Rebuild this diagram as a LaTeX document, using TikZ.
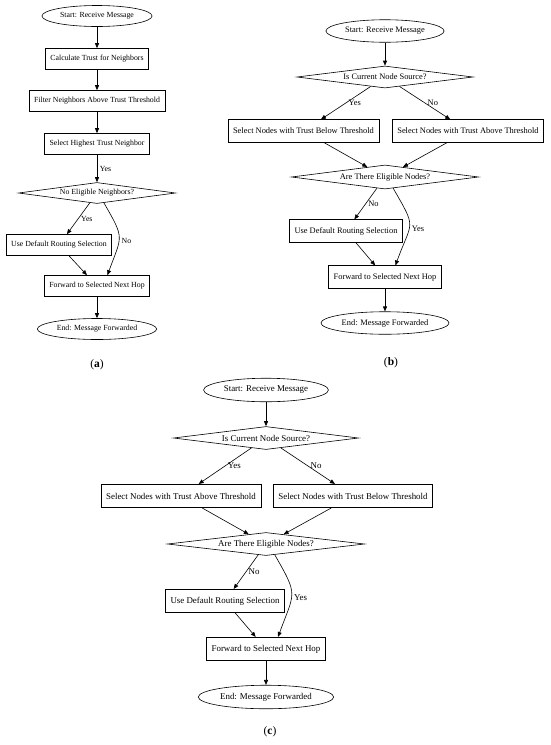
\documentclass[tikz,border=0pt]{standalone}
\usepackage{fontspec}
\setmainfont{Liberation Serif}
\usetikzlibrary{arrows.meta, shapes.geometric}

\begin{document}
\begin{tikzpicture}[x=1pt, y=1pt, line width=0.6pt,
    boxh/.style={minimum height=21pt},
    terminal/.style={draw, ellipse, inner xsep=2pt, inner ysep=0pt, boxh},
    procbox/.style={draw, rectangle, inner xsep=5pt, inner ysep=0pt, boxh},
    decision/.style={draw, diamond, aspect=9, inner sep=0pt},
    flow/.style={-{Triangle[length=5pt, width=4pt]}},
    lbl/.style={right, inner sep=2.5pt},
    caption/.style={font=\fontsize{11.5}{13}\selectfont}]
  \useasboundingbox (0,0) rectangle (550,-745);

  % (a) Single path: highest trust neighbour
  \begin{scope}[every node/.append style={font=\fontsize{7.8}{9}\selectfont}]
    \node[terminal] (startA) at (97,-16) {Start: Receive Message};
    \node[procbox] (calcA) at (97,-59) {Calculate Trust for Neighbors};
    \node[procbox] (filtA) at (97,-101) {Filter Neighbors Above Trust Threshold};
    \node[procbox] (highA) at (97,-144) {Select Highest Trust Neighbor};
    \node[decision, minimum width=157pt, minimum height=21pt] (decA) at (97,-193) {No Eligible Neighbors?};
    \node[procbox] (useA) at (59,-245) {Use Default Routing Selection};
    \node[procbox] (fwdA) at (97,-286) {Forward to Selected Next Hop};
    \node[terminal] (endA) at (97,-329) {End: Message Forwarded};

    \draw[flow] (startA) -- (calcA);
    \draw[flow] (calcA) -- (filtA);
    \draw[flow] (filtA) -- (highA);
    \draw[flow] (highA) -- node[lbl] {Yes} (decA);
    \draw[flow] (decA) -- node[lbl] {Yes} (useA);
    \draw[flow] (decA.-55) to[out=-60, in=70, looseness=1.5] node[lbl, pos=0.56] {No} (fwdA.46);
    \draw[flow] (useA) -- (fwdA);
    \draw[flow] (fwdA) -- (endA);
  \end{scope}
  \node[caption] (capA) at (97,-365) {(\textbf{a})};

  % (b) Source picks below threshold
  \begin{scope}[boxh/.style={minimum height=22.5pt},
      every node/.append style={font=\fontsize{8.4}{10}\selectfont}]
    \node[terminal] (startB) at (385,-31) {Start: Receive Message};
    \node[decision, minimum width=176pt, minimum height=22pt] (srcB) at (385,-77) {Is Current Node Source?};
    \node[procbox] (belowB) at (303.5,-131) {Select Nodes with Trust Below Threshold};
    \node[procbox] (aboveB) at (468,-131) {Select Nodes with Trust Above Threshold};
    \node[decision, minimum width=187pt, minimum height=24pt] (eligB) at (385,-177) {Are There Eligible Nodes?};
    \node[procbox] (useB) at (346,-231) {Use Default Routing Selection};
    \node[procbox] (fwdB) at (385,-277) {Forward to Selected Next Hop};
    \node[terminal] (endB) at (385,-323) {End: Message Forwarded};

    \draw[flow] (startB) -- (srcB);
    \draw[flow] (srcB) -- node[lbl] {Yes} (belowB);
    \draw[flow] (srcB) -- node[lbl] {No} (aboveB);
    \draw[flow] (belowB) -- (eligB);
    \draw[flow] (aboveB) -- (eligB);
    \draw[flow] (eligB) -- node[lbl] {No} (useB);
    \draw[flow] (eligB.-54) to[out=-60, in=70, looseness=1.6] node[lbl, pos=0.56] {Yes} (fwdB.48);
    \draw[flow] (useB) -- (fwdB);
    \draw[flow] (fwdB) -- (endB);
  \end{scope}
  \node[caption] (capB) at (391,-363) {(\textbf{b})};

  % (c) Source picks above threshold
  \begin{scope}[boxh/.style={minimum height=23.5pt},
      every node/.append style={font=\fontsize{8.9}{11}\selectfont}]
    \node[terminal] (startC) at (266,-390) {Start: Receive Message};
    \node[decision, minimum width=185pt, minimum height=23pt] (srcC) at (266,-438) {Is Current Node Source?};
    \node[procbox] (aboveC) at (181,-496) {Select Nodes with Trust Above Threshold};
    \node[procbox] (belowC) at (353,-496) {Select Nodes with Trust Below Threshold};
    \node[decision, minimum width=197pt, minimum height=23pt] (eligC) at (266,-544) {Are There Eligible Nodes?};
    \node[procbox] (useC) at (225,-601) {Use Default Routing Selection};
    \node[procbox] (fwdC) at (266,-649) {Forward to Selected Next Hop};
    \node[terminal] (endC) at (266,-697) {End: Message Forwarded};

    \draw[flow] (startC) -- (srcC);
    \draw[flow] (srcC) -- node[lbl] {Yes} (aboveC);
    \draw[flow] (srcC) -- node[lbl] {No} (belowC);
    \draw[flow] (aboveC) -- (eligC);
    \draw[flow] (belowC) -- (eligC);
    \draw[flow] (eligC) -- node[lbl] {No} (useC);
    \draw[flow] (eligC.-51) to[out=-60, in=70, looseness=1.5] node[lbl, pos=0.56] {Yes} (fwdC.45);
    \draw[flow] (useC) -- (fwdC);
    \draw[flow] (fwdC) -- (endC);
  \end{scope}
  \node[caption] (capC) at (270,-732) {(\textbf{c})};
\end{tikzpicture}
\end{document}
